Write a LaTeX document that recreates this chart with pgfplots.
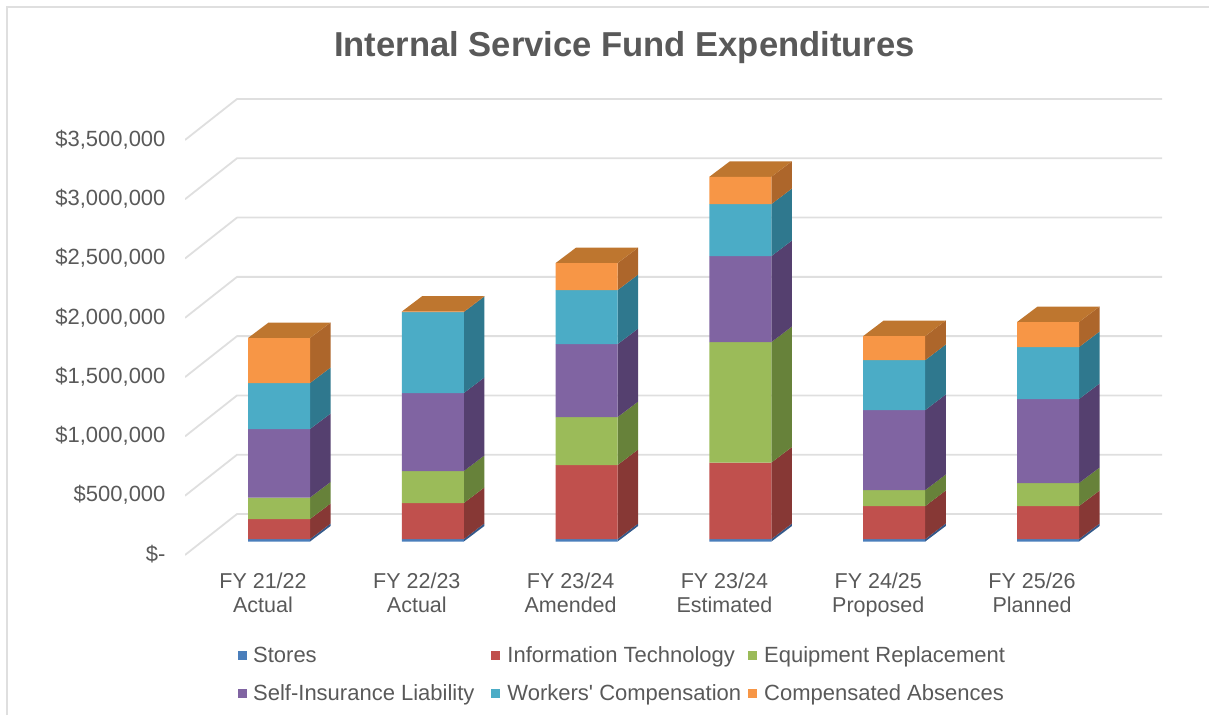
\documentclass[border=0pt]{standalone}
\usepackage{pgfplots}
\pgfplotsset{compat=1.18}
\usepackage{fontspec}
\setmainfont{Liberation Sans}
\definecolor{txt}{HTML}{595959}
\definecolor{gridc}{HTML}{DFDFDF}
\definecolor{cS}{HTML}{4A7EBB}\definecolor{cSd}{HTML}{34598A}
\definecolor{cI}{HTML}{C0504D}\definecolor{cId}{HTML}{873835}
\definecolor{cE}{HTML}{9BBB59}\definecolor{cEd}{HTML}{67823A}
\definecolor{cL}{HTML}{8064A2}\definecolor{cLd}{HTML}{55406F}
\definecolor{cW}{HTML}{4BACC6}\definecolor{cWd}{HTML}{2F788E}
\definecolor{cC}{HTML}{F79646}\definecolor{cCd}{HTML}{AD662B}
\definecolor{cCt}{HTML}{BE762F}
\pgfplotstableread{
x Stores IT Equip SelfIns Workers CompAbs
0 21000 168600 181300 577600 387900 379400
1 21000 303600 269800 657700 683000 4200
2 21000 624000 404700 615500 455300 227700
3 21000 645000 1016100 725200 438500 230200
4 21000 278300 134900 674600 421600 202400
5 21000 278300 193900 708300 438500 210800
}\datatab
\pgfplotsset{front/.style={ybar stacked,bar width=62pt,draw=none,fill=#1,
  legend image code/.code={\fill[fill=#1] (0pt,-4.5pt) rectangle (9pt,4.5pt);}}}
% one gridline: front end, back corner, right end (value in dollars)
\newcommand\gridrow[1]{%
 \edef\tmp{\noexpand\addplot[forget plot,gridc,line width=1.8pt,line join=bevel] coordinates {(-0.6112,\the\numexpr#1-113800\relax) (-0.2731,\the\numexpr#1+231900\relax) (5.741,\the\numexpr#1+231900\relax)};}\tmp}
% side face of one segment: bar index, low, high, colour
\newcommand\sideface[4]{%
 \pgfmathsetmacro\xa{#1+0.2016}\pgfmathsetmacro\xb{#1+0.3349}%
 \edef\tmp{\noexpand\addplot[forget plot,draw=none,fill=#4] coordinates {(\xa,\the\numexpr#2\relax) (\xb,\the\numexpr#2+130700\relax) (\xb,\the\numexpr#3+130700\relax) (\xa,\the\numexpr#3\relax)};}\tmp}
% top face: bar index, total
\newcommand\topface[2]{%
 \pgfmathsetmacro\xa{#1-0.2016}\pgfmathsetmacro\xb{#1+0.2016}\pgfmathsetmacro\xc{#1+0.3349}\pgfmathsetmacro\xd{#1-0.0683}%
 \edef\tmp{\noexpand\addplot[forget plot,draw=none,fill=cCt] coordinates {(\xa,#2) (\xb,#2) (\xc,\the\numexpr#2+130700\relax) (\xd,\the\numexpr#2+130700\relax)};}\tmp}
% all faces of one bar: index and the six values
\newcommand\barfaces[7]{%
 \sideface{#1}{0}{#2}{cSd}%
 \sideface{#1}{#2}{#2+#3}{cId}%
 \sideface{#1}{#2+#3}{#2+#3+#4}{cEd}%
 \sideface{#1}{#2+#3+#4}{#2+#3+#4+#5}{cLd}%
 \sideface{#1}{#2+#3+#4+#5}{#2+#3+#4+#5+#6}{cWd}%
 \barfacesb{#1}{\the\numexpr#2+#3+#4+#5+#6\relax}{#7}}
\newcommand\barfacesb[3]{%
 \sideface{#1}{#2}{#2+#3}{cCd}%
 \topface{#1}{\the\numexpr#2+#3\relax}}
\begin{document}
\begin{tikzpicture}[x=1pt,y=1pt]
\useasboundingbox (0,0) rectangle (1209,715);
\draw[gridc,line width=1.5pt] (7,0) -- (7,708) -- (1209,708);
\node[text=txt,font=\bfseries\fontsize{34.6}{40}\selectfont] at (624.5,667) {Internal Service Fund Expenditures};
\begin{axis}[
  at={(185pt,160pt)},anchor=south west,
  scale only axis,width=977pt,height=456pt,
  xmin=-0.6112,xmax=5.741,ymin=-113800,ymax=3731900,
  axis line style={draw=none},tick style={draw=none},
  xtick={0,1,2,3,4,5},
  xticklabels={FY 21/22\\Actual,FY 22/23\\Actual,FY 23/24\\Amended,FY 23/24\\Estimated,FY 24/25\\Proposed,FY 25/26\\Planned},
  xticklabel style={align=center,text=txt,xshift=-16pt,yshift=-14pt,font=\fontsize{21.5}{24}\selectfont},
  ytick={0,500000,1000000,1500000,2000000,2500000,3000000,3500000},
  yticklabels={\$-\hspace{15pt},{\$500,000},{\$1,000,000},{\$1,500,000},{\$2,000,000},{\$2,500,000},{\$3,000,000},{\$3,500,000}},
  yticklabel style={anchor=east,text=txt,xshift=-16pt,yshift=-13pt,font=\fontsize{22}{24}\selectfont},
  scaled y ticks=false,
  legend columns=3,
  legend cell align=left,
  legend style={at={(0.0542,-0.196)},anchor=north west,draw=none,fill=none,
    font=\fontsize{22}{24}\selectfont,text=txt,row sep=16.5pt,inner sep=0pt,
    /tikz/column 1/.style={column sep=4pt},
    /tikz/column 2/.style={column sep=15pt},
    /tikz/column 3/.style={column sep=5pt},
    /tikz/column 4/.style={column sep=5pt},
    /tikz/column 5/.style={column sep=5pt}},
]
\gridrow{0}\gridrow{500000}\gridrow{1000000}\gridrow{1500000}\gridrow{2000000}\gridrow{2500000}\gridrow{3000000}\gridrow{3500000}
\barfaces{0}{21000}{168600}{181300}{577600}{387900}{379400}
\barfaces{1}{21000}{303600}{269800}{657700}{683000}{4200}
\barfaces{2}{21000}{624000}{404700}{615500}{455300}{227700}
\barfaces{3}{21000}{645000}{1016100}{725200}{438500}{230200}
\barfaces{4}{21000}{278300}{134900}{674600}{421600}{202400}
\barfaces{5}{21000}{278300}{193900}{708300}{438500}{210800}
\addplot[front=cS] table[x=x,y=Stores]{\datatab};\addlegendentry{Stores}
\addplot[front=cI] table[x=x,y=IT]{\datatab};\addlegendentry{Information Technology}
\addplot[front=cE] table[x=x,y=Equip]{\datatab};\addlegendentry{Equipment Replacement}
\addplot[front=cL] table[x=x,y=SelfIns]{\datatab};\addlegendentry{Self-Insurance Liability}
\addplot[front=cW] table[x=x,y=Workers]{\datatab};\addlegendentry{Workers\textquotesingle{} Compensation}
\addplot[front=cC] table[x=x,y=CompAbs]{\datatab};\addlegendentry{Compensated Absences}
\end{axis}
\end{tikzpicture}
\end{document}
